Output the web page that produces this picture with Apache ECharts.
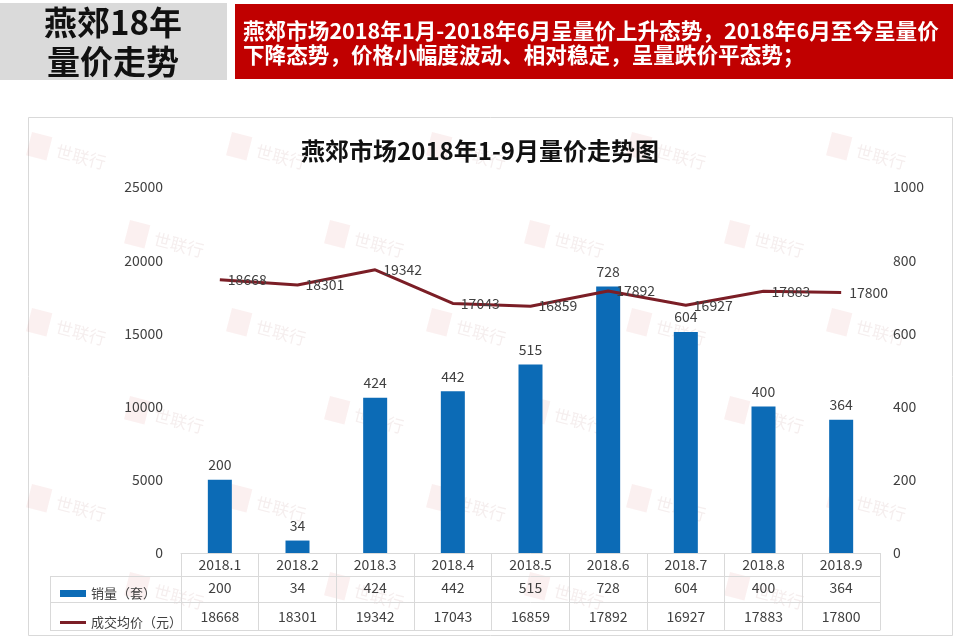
<!DOCTYPE html>
<html><head><meta charset="utf-8">
<script src="https://cdn.jsdelivr.net/npm/echarts@6/dist/echarts.min.js"></script>
<style>html,body{margin:0;padding:0;background:#fff}#c{width:960px;height:642px}</style>
</head><body><div id="c"></div>
<script>
// ---- data ----
const categories = ['2018.1','2018.2','2018.3','2018.4','2018.5','2018.6','2018.7','2018.8','2018.9'];
const sales = [200, 34, 424, 442, 515, 728, 604, 400, 364];
const prices = [18668, 18301, 19342, 17043, 16859, 17892, 16927, 17883, 17800];
const seriesNames = ['销量（套）', '成交均价（元）'];
const leftAxisRange = [0, 25000, 5000];
const rightAxisRange = [0, 1000, 200];
const headerLeft = ['燕郊18年', '量价走势'];
const headerRight = ['燕郊市场2018年1月-2018年6月呈量价上升态势，2018年6月至今呈量价', '下降态势，价格小幅度波动、相对稳定，呈量跌价平态势；'];
const chartTitle = '燕郊市场2018年1-9月量价走势图';
const watermarkText = '世联行';

// ---- styles ----
const FONT = "'Noto Sans CJK SC','Noto Sans',sans-serif";
const TXT = '#404040';
const LINE_C = '#d9d9d9';
const BAR_C = '#0c6bb6';
const PRICE_C = '#7b1e26';

function tableAxis(offset, tickLen, labels, margin) {
  return {
    type: 'category', data: categories, gridIndex: 0, position: 'bottom', offset: offset,
    boundaryGap: true,
    axisLine: { show: true, onZero: false, lineStyle: { color: LINE_C, width: 1 } },
    axisTick: { show: tickLen > 0, length: tickLen, interval: 0, alignWithLabel: false, lineStyle: { color: LINE_C } },
    axisLabel: { show: !!labels, interval: 0, margin: margin, fontSize: 14, color: TXT, fontFamily: FONT,
      formatter: function (v, i) { return labels ? String(labels[i]) : ''; } },
    splitLine: { show: false }
  };
}

// decorations
const graphics = [];
graphics.push({ type: 'rect', shape: { x: 0, y: 3, width: 227, height: 77 }, style: { fill: '#dadada' }, z: 1 });
graphics.push({ type: 'rect', shape: { x: 235, y: 4, width: 718, height: 75 }, style: { fill: '#c00000' }, z: 1 });
headerLeft.forEach(function (t, i) {
  graphics.push({ type: 'text', x: 113, y: 22 + i * 39, z: 2,
    style: { text: t, font: "bold 33px " + FONT, fill: '#111', align: 'center', verticalAlign: 'middle' } });
});
headerRight.forEach(function (t, i) {
  graphics.push({ type: 'text', x: 243, y: 31 + i * 24, z: 2,
    style: { text: t, font: "bold 21.6px " + FONT, fill: '#fff', align: 'left', verticalAlign: 'middle' } });
});
graphics.push({ type: 'rect', shape: { x: 28.5, y: 117.5, width: 924, height: 518 }, style: { fill: 'none', stroke: LINE_C, lineWidth: 1 }, z: 0 });
// watermarks
const wmRows = [132, 220, 308, 396, 484, 572];
wmRows.forEach(function (wy, r) {
  for (let wx = (r % 2 ? 130 : 32); wx < 900; wx += 200) {
    graphics.push({ type: 'group', x: wx, y: wy, rotation: -0.25, z: 0, silent: true, children: [
      { type: 'rect', shape: { x: 0, y: 0, width: 21, height: 24 }, style: { fill: 'rgba(215,110,110,0.10)' } },
      { type: 'text', x: 28, y: 12, style: { text: watermarkText, font: "17px " + FONT, fill: 'rgba(180,120,120,0.13)', verticalAlign: 'middle' } }
    ] });
  }
});
// left table column borders
[576.5, 602.5, 630.5].forEach(function (y) {
  graphics.push({ type: 'line', shape: { x1: 50, y1: y, x2: 181, y2: y }, style: { stroke: LINE_C, lineWidth: 1 }, z: 1 });
});
graphics.push({ type: 'line', shape: { x1: 50.5, y1: 576, x2: 50.5, y2: 631 }, style: { stroke: LINE_C, lineWidth: 1 }, z: 1 });

const chart = echarts.init(document.getElementById('c'), null, { renderer: 'canvas' });
chart.setOption({
  backgroundColor: '#fff',
  animation: false,
  textStyle: { fontFamily: FONT },
  title: { text: chartTitle, left: 'center', top: 134,
    textStyle: { fontSize: 24, fontWeight: 'bold', color: '#111', fontFamily: FONT } },
  legend: {
    orient: 'vertical', left: 55, top: 582, itemWidth: 26, itemHeight: 7, itemGap: 16,
    textStyle: { fontSize: 13, color: TXT, fontFamily: FONT },
    data: [{ name: seriesNames[0], icon: 'rect' },
           { name: seriesNames[1], icon: 'path://M0,0L26,0L26,3L0,3Z' }]
  },
  grid: { left: 181, right: 80, top: 187, bottom: 89, containLabel: false },
  xAxis: [
    tableAxis(0, 23, categories, 5),
    tableAxis(23, 26, sales, 5),
    tableAxis(49, 28, prices, 8),
    tableAxis(77, 0, null, 5)
  ],
  yAxis: [
    { type: 'value', min: leftAxisRange[0], max: leftAxisRange[1], interval: leftAxisRange[2], position: 'left',
      axisLine: { show: false }, axisTick: { show: false }, splitLine: { show: false },
      axisLabel: { margin: 18, fontSize: 14, color: TXT, fontFamily: FONT, formatter: function (v) { return String(v); } } },
    { type: 'value', min: rightAxisRange[0], max: rightAxisRange[1], interval: rightAxisRange[2], position: 'right',
      axisLine: { show: false }, axisTick: { show: false }, splitLine: { show: false },
      axisLabel: { margin: 13, fontSize: 14, color: TXT, fontFamily: FONT, formatter: function (v) { return String(v); } } }
  ],
  series: [
    { name: seriesNames[0], type: 'bar', xAxisIndex: 0, yAxisIndex: 1, data: sales, barWidth: 24,
      itemStyle: { color: BAR_C },
      label: { show: true, position: 'top', distance: 8, fontSize: 14, color: TXT, fontFamily: FONT } },
    { name: seriesNames[1], type: 'line', xAxisIndex: 0, yAxisIndex: 0, data: prices,
      symbol: 'circle', symbolSize: 0.01, showSymbol: true,
      lineStyle: { color: PRICE_C, width: 3 }, itemStyle: { color: PRICE_C },
      label: { show: true, position: 'right', distance: 8, fontSize: 14, color: TXT, fontFamily: FONT }, z: 3 }
  ],
  graphic: graphics
});
</script></body></html>
